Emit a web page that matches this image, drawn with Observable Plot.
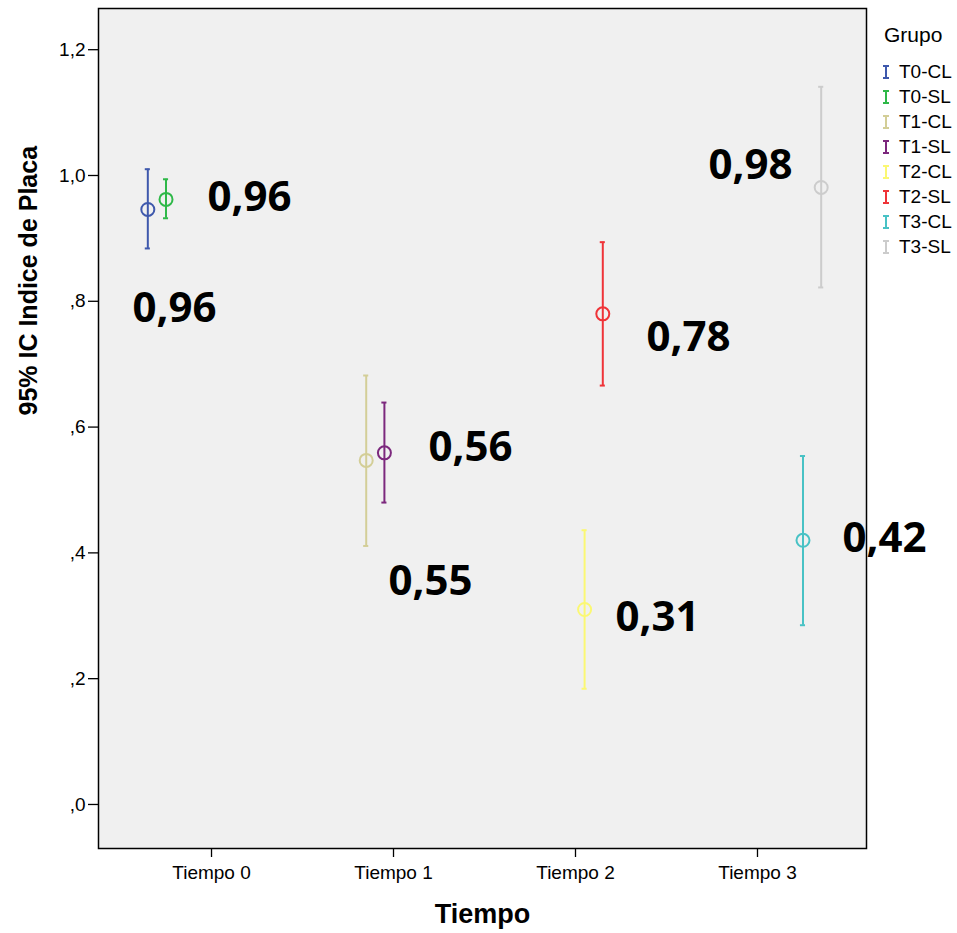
<!DOCTYPE html>
<html><head><meta charset="utf-8">
<script src="https://cdn.jsdelivr.net/npm/d3@7"></script>
<script src="https://cdn.jsdelivr.net/npm/@observablehq/plot@0.6"></script>
<style>
body{margin:0;background:#fff;}
#wrap{position:relative;width:957px;height:933px;overflow:hidden;}
#legend{position:absolute;left:878px;top:20px;font-family:"Liberation Sans",Arial,sans-serif;color:#000;}
#legend .ttl{font-size:21px;height:30px;line-height:30px;margin-left:6px;margin-bottom:10px;}
#legend .row{display:flex;align-items:center;height:24.9px;font-size:19px;}
#legend svg{margin-right:8px;margin-left:3px;}
</style></head><body><div id="wrap"><div id="chart"></div><div id="legend"></div></div>
<script>
const times = ["Tiempo 0","Tiempo 1","Tiempo 2","Tiempo 3"];
const groups = ["T0-CL","T0-SL","T1-CL","T1-SL","T2-CL","T2-SL","T3-CL","T3-SL"];
const groupTime = [0,0,1,1,2,2,3,3];
const means = [0.946,0.962,0.547,0.559,0.310,0.780,0.420,0.981];
const lower = [0.884,0.932,0.411,0.480,0.184,0.666,0.285,0.822];
const upper = [1.010,0.994,0.682,0.639,0.436,0.894,0.554,1.141];
const colors = ["#3E58AC","#2EB848","#D3CE97","#7C287D","#FBF873","#EF3338","#48C2C5","#CCCCCC"];
const yTicks = [0,0.2,0.4,0.6,0.8,1.0,1.2];
const annText = ["0,96","0,96","0,56","0,55","0,78","0,31","0,98","0,42"];
const annTime = [0.209,-0.203,1.423,1.203,2.621,2.451,2.962,3.698];
const annValue = [0.965,0.789,0.568,0.355,0.742,0.297,1.016,0.423];

const data = groups.map((g,i)=>({group:g, slot:i, time:groupTime[i], mean:means[i], lo:lower[i], hi:upper[i]}));
const ann = annText.map((t,i)=>({text:t, time:annTime[i], value:annValue[i]}));
const xPos = d => d.time + (d.slot - 3.5) * 0.1;
const cap = 0.014;
const fmt = v => d3.format(".1f")(v).replace(".",",").replace(/^0/,"");

const chart = Plot.plot({
  width:957, height:933,
  marginLeft:98, marginRight:91, marginTop:8, marginBottom:85,
  style:{fontFamily:"'Liberation Sans', Arial, sans-serif", background:"transparent", color:"#000"},
  x:{domain:[-0.621,3.599]},
  y:{domain:[-0.0700,1.2655]},
  color:{domain:groups, range:colors},
  marks:[
    Plot.frame({fill:"#f0f0f0", stroke:null}),
    Plot.axisY({ticks:yTicks, tickFormat:fmt, tickSize:10, tickPadding:3, fontSize:19, label:null, strokeWidth:1.3}),
    Plot.axisX({ticks:[0,1,2,3], tickFormat:d=>times[d], tickSize:9, tickPadding:8, fontSize:19, label:null, strokeWidth:1.3}),
    Plot.ruleX(data,{x:xPos, y1:"lo", y2:"hi", stroke:"group", strokeWidth:2}),
    Plot.ruleY(data,{y:"lo", x1:d=>xPos(d)-cap, x2:d=>xPos(d)+cap, stroke:"group", strokeWidth:2}),
    Plot.ruleY(data,{y:"hi", x1:d=>xPos(d)-cap, x2:d=>xPos(d)+cap, stroke:"group", strokeWidth:2}),
    Plot.dot(data,{x:xPos, y:"mean", r:6.5, stroke:"group", strokeWidth:2, fill:"none"}),
    Plot.frame({stroke:"#000", strokeWidth:1.5}),
    Plot.text(ann,{x:"time", y:"value", text:"text", fontFamily:"'Open Sans', sans-serif", fontWeight:"bold", fontSize:42, fill:"#000"}),
    Plot.text(["95% IC Indice de Placa"],{frameAnchor:"left", dx:-70, dy:-13, rotate:-90, fontWeight:"bold", fontSize:25, fill:"#000"}),
    Plot.text(["Tiempo"],{frameAnchor:"bottom", dy:74, fontWeight:"bold", fontSize:27, fill:"#000"})
  ]
});
document.getElementById("chart").appendChild(chart);

const leg = d3.select("#legend");
leg.append("div").attr("class","ttl").text("Grupo");
groups.forEach((g,i)=>{
  const row = leg.append("div").attr("class","row");
  const s = row.append("svg").attr("width",10).attr("height",16);
  s.append("line").attr("x1",5).attr("x2",5).attr("y1",2).attr("y2",14).attr("stroke",colors[i]).attr("stroke-width",2);
  s.append("line").attr("x1",2).attr("x2",8).attr("y1",2).attr("y2",2).attr("stroke",colors[i]).attr("stroke-width",2);
  s.append("line").attr("x1",2).attr("x2",8).attr("y1",14).attr("y2",14).attr("stroke",colors[i]).attr("stroke-width",2);
  row.append("span").text(g);
});
</script></body></html>
